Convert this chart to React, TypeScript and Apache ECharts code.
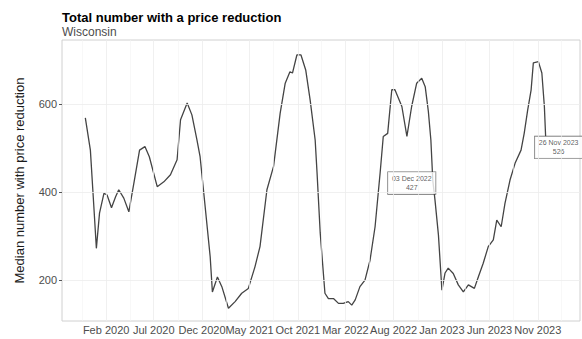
import React, { useEffect, useRef } from "react";
import * as echarts from "echarts";

const titleText = "Total number with a price reduction";
const subtitleText = "Wisconsin";
const yAxisTitle = "Median number with price reduction";

const dates = [
  "2019-11-27", "2019-12-13", "2019-12-24", "2020-01-01", "2020-01-11", "2020-01-25", "2020-02-04", "2020-02-18", "2020-03-02", "2020-03-12",
  "2020-03-28", "2020-04-13", "2020-04-29", "2020-05-17", "2020-06-03", "2020-06-17", "2020-07-12", "2020-08-02", "2020-08-23", "2020-09-13",
  "2020-09-24", "2020-10-15", "2020-10-30", "2020-11-15", "2020-11-25", "2020-12-11", "2020-12-27", "2021-01-03", "2021-01-19", "2021-02-02",
  "2021-02-23", "2021-03-16", "2021-04-06", "2021-04-27", "2021-05-18", "2021-06-03", "2021-06-25", "2021-07-16", "2021-08-06", "2021-08-22",
  "2021-09-06", "2021-09-14", "2021-09-28", "2021-10-11", "2021-10-26", "2021-11-09", "2021-11-25", "2021-12-01", "2021-12-11", "2021-12-26",
  "2022-01-06", "2022-01-22", "2022-02-07", "2022-02-22", "2022-03-10", "2022-03-21", "2022-04-01", "2022-04-16", "2022-05-02", "2022-05-18",
  "2022-06-03", "2022-06-19", "2022-06-29", "2022-07-13", "2022-07-26", "2022-08-05", "2022-08-27", "2022-09-12", "2022-09-27", "2022-10-13",
  "2022-10-29", "2022-11-09", "2022-11-19", "2022-11-27", "2022-12-03", "2022-12-10", "2022-12-21", "2023-01-01", "2023-01-11", "2023-01-21",
  "2023-02-06", "2023-02-22", "2023-03-10", "2023-03-26", "2023-04-14", "2023-04-27", "2023-05-12", "2023-05-28", "2023-06-13", "2023-06-24",
  "2023-07-08", "2023-07-20", "2023-08-05", "2023-08-21", "2023-09-09", "2023-09-19", "2023-09-30", "2023-10-11", "2023-10-18", "2023-11-03",
  "2023-11-14", "2023-11-22", "2023-11-26",
];

const values = [
  568, 495, 367, 272, 352, 397, 393, 364, 389, 405,
  386, 355, 420, 495, 503, 480, 412, 423, 439, 473,
  564, 602, 575, 518, 480, 367, 253, 173, 207, 185,
  136, 151, 170, 181, 230, 276, 405, 458, 579, 647,
  673, 670, 711, 711, 677, 609, 518, 443, 307, 170,
  158, 158, 147, 147, 151, 143, 155, 185, 200, 245,
  321, 443, 526, 533, 632, 632, 594, 526, 594, 647,
  658, 639, 583, 518, 427, 382, 302, 177, 216, 227,
  215, 189, 173, 189, 181, 208, 238, 276, 291, 336,
  321, 374, 427, 465, 495, 533, 586, 632, 693, 696,
  670, 594, 526,
];

const xTicks = [
  "2020-02-01", "2020-07-01", "2020-12-01", "2021-05-01", "2021-10-01",
  "2022-03-01", "2022-08-01", "2023-01-01", "2023-06-01", "2023-11-01",
];
const yTicks = [200, 400, 600];
const xRange = ["2019-09-14", "2024-03-14"];
const yRange = [107, 745];
const annotationIndices = [74, 102];

const MONTHS = ["Jan", "Feb", "Mar", "Apr", "May", "Jun", "Jul", "Aug", "Sep", "Oct", "Nov", "Dec"];
const FONT = "Liberation Sans, Arial, sans-serif";

function toTime(s: string): number {
  const [y, m, d] = s.split("-").map(Number);
  return Date.UTC(y, m - 1, d);
}
function pad2(n: number) {
  return n < 10 ? "0" + n : "" + n;
}

export default function App() {
  const ref = useRef<HTMLDivElement>(null);

  useEffect(() => {
    if (!ref.current) return;
    const chart = echarts.init(ref.current, undefined, { renderer: "svg" });

    const seriesData = dates.map((d, i) => [toTime(d), values[i]]);
    const majorT = xTicks.map(toTime);
    const minorT: number[] = [];
    for (let i = 0; i < majorT.length - 1; i++) minorT.push((majorT[i] + majorT[i + 1]) / 2);
    const step = majorT[1] - majorT[0];
    minorT.unshift(majorT[0] - step / 2);
    minorT.push(majorT[majorT.length - 1] + step / 2);

    const annData = annotationIndices.map((idx, k) => {
      const dt = new Date(toTime(dates[idx]));
      const txt = `${pad2(dt.getUTCDate())} ${MONTHS[dt.getUTCMonth()]} ${dt.getUTCFullYear()}\n${values[idx]}`;
      const left = k === 0;
      return {
        value: [toTime(dates[idx]), values[idx]],
        label: {
          show: true,
          formatter: txt,
          position: left ? [-21, -8] : [13, 0],
          align: "center",
          verticalAlign: "top",
        },
      };
    });

    const option: any = {
      animation: false,
      backgroundColor: "#ffffff",
      textStyle: { fontFamily: FONT },
      title: {
        text: titleText,
        subtext: subtitleText,
        left: 57,
        top: 5,
        itemGap: 0,
        textStyle: { fontFamily: FONT, fontSize: 13, fontWeight: "bold", color: "#000", lineHeight: 15 },
        subtextStyle: { fontFamily: FONT, fontSize: 12, color: "#4d4d4d", lineHeight: 13 },
      },
      grid: {
        left: 62,
        right: 2,
        top: 40,
        bottom: 18,
        show: true,
        borderColor: "#d0d0d0",
        borderWidth: 1,
        backgroundColor: "transparent",
      },
      xAxis: {
        type: "value",
        min: toTime(xRange[0]),
        max: toTime(xRange[1]),
        axisLine: { show: false },
        axisTick: { show: false },
        splitLine: { show: false },
        axisLabel: {
          customValues: majorT,
          hideOverlap: false,
          showMinLabel: true,
          showMaxLabel: true,
          fontFamily: FONT,
          fontSize: 11,
          color: "#4d4d4d",
          margin: 3,
          formatter: (v: number) => {
            const d = new Date(v);
            return `${MONTHS[d.getUTCMonth()]} ${d.getUTCFullYear()}`;
          },
        },
      },
      yAxis: {
        type: "value",
        min: yRange[0],
        max: yRange[1],
        name: yAxisTitle,
        nameLocation: "middle",
        nameRotate: 90,
        nameGap: 36,
        nameTextStyle: { fontFamily: FONT, fontSize: 13, color: "#1a1a1a" },
        axisLine: { show: false },
        axisTick: { show: true, customValues: yTicks, length: 3, lineStyle: { color: "#555" } },
        splitLine: { show: false },
        axisLabel: {
          customValues: yTicks,
          fontFamily: FONT,
          fontSize: 11,
          color: "#4d4d4d",
          margin: 5,
        },
      },
      series: [
        {
          type: "line",
          data: [],
          z: 1,
          silent: true,
          markLine: {
            silent: true,
            symbol: "none",
            label: { show: false },
            animation: false,
            data: [
              ...minorT.map((t) => ({ xAxis: t, lineStyle: { color: "#f4f4f4", width: 0.6, type: "solid" } })),
              ...majorT.map((t) => ({ xAxis: t, lineStyle: { color: "#ececec", width: 0.8, type: "solid" } })),
              ...yTicks.map((v) => ({ yAxis: v, lineStyle: { color: "#ececec", width: 0.8, type: "solid" } })),
            ],
          },
        },
        {
          type: "line",
          data: seriesData,
          z: 3,
          showSymbol: false,
          symbol: "none",
          smooth: false,
          lineStyle: { color: "#444444", width: 1.3 },
        },
        {
          type: "scatter",
          data: annData,
          z: 4,
          symbolSize: 0,
          silent: true,
          label: {
            show: true,
            fontFamily: FONT,
            fontSize: 7,
            lineHeight: 9,
            color: "#333",
            align: "center",
            backgroundColor: "#ffffff",
            borderColor: "#444",
            borderWidth: 0.6,
            padding: [2, 4],
          },
        },
      ],
    };

    chart.setOption(option);
    return () => chart.dispose();
  }, []);

  return <div ref={ref} style={{ width: 582, height: 339, position: "absolute", left: 0, top: 0 }} />;
}
